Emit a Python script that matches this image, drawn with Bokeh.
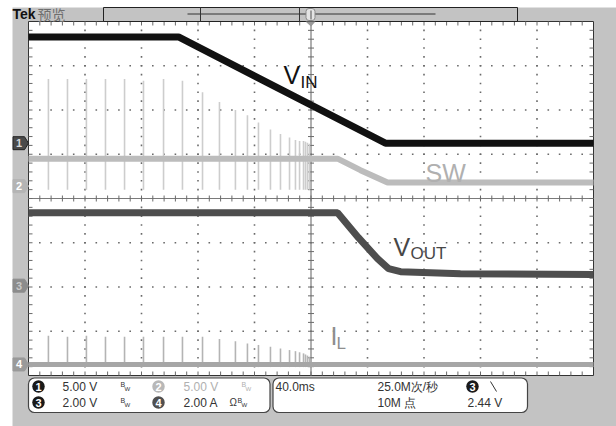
import numpy as np
from bokeh.plotting import figure
from bokeh.models import Range1d
from bokeh.core.properties import value
from bokeh.embed import file_html
from bokeh.resources import INLINE

# ---------------- data ----------------
# horizontal: 40 ms/div, 10 divisions, trigger at screen centre (t = 0)
vin_t = [-200.0, -93.8, 52.7, 200.0]
vin_v = [12.0, 12.0, 0.0, 0.0]                      # CH1, 5 V/div

sw_t = [-200.0, 18.8, 35.0, 54.2, 200.0]
sw_v = [3.1, 3.1, 1.8, 0.4, 0.4]                     # CH2, 5 V/div (envelope)

vout_t = [-200.0, 18.8, 33.6, 47.1, 54.9, 63.4, 105.8, 200.0]
vout_v = [3.30, 3.30, 2.17, 1.22, 0.77, 0.63, 0.54, 0.50]   # CH3, 2 V/div

il_t = [-200.0, 200.0]
il_a = [0.0, 0.0]                                    # CH4, 2 A/div (baseline)

# switching bursts (same instants on SW and IL)
spike_t = [-185.9, -172.4, -159.0, -145.5, -132.0, -118.6, -104.4, -91.0,
           -76.8, -64.8, -53.5, -45.0, -37.2, -28.7, -21.6, -15.2, -11.0,
           -8.1, -5.3, -3.9, -2.5, -1.1]
sw_spike_hi = [12.1, 12.1, 12.1, 12.1, 12.1, 11.9, 12.1, 11.9, 10.6, 9.5, 8.6,
               8.0, 7.2, 6.4, 5.9, 5.5, 5.2, 5.1, 5.1, 5.0, 4.9, 4.8]
sw_spike_lo = [-0.4, -0.4, -0.4, -0.4, -0.4, -0.4, -0.4, -0.4, -0.4, -0.4, -0.4,
               -0.4, -0.4, -0.4, -0.4, -0.4, -0.4, -0.4, -0.4, -0.4, -0.4, -0.4]
il_spike_hi = [1.30, 1.25, 1.30, 1.25, 1.25, 1.25, 1.25, 1.25, 1.25, 1.15, 1.05,
               0.95, 0.88, 0.80, 0.72, 0.65, 0.60, 0.55, 0.50, 0.45, 0.40, 0.35]

# channel setup
ch_scale = [5.0, 5.0, 2.0, 2.0]        # units / div
ch_offset = [1.25, 0.28, -1.97, -3.75]  # ground marker position, div
ch_names = ["1", "2", "3", "4"]
ch_units = ["5.00 V", "5.00 V", "2.00 V", "2.00 A"]
timebase = "40.0ms"
sample_rate = "25.0M次/秒"
record_len = "10M 点"
trig_level = "2.44 V"

# ---------------- pixel helpers (layout only) ----------------
KX = 400.0 / 565.0
KY = 1.0 / 44.25
X0 = -200.0 - 28 * KX
Y0 = 4.0 + 21 * KY


def X(px):
    return X0 + px * KX


def Y(py):
    return Y0 - py * KY


def dv(ch, vals):
    return [ch_offset[ch] + v / ch_scale[ch] for v in vals]


p = figure(width=616, height=426, x_range=Range1d(X(0), X(616)),
           y_range=Range1d(Y(426), Y(0)), x_axis_type=None, y_axis_type=None,
           toolbar_location=None, output_backend="svg", min_border=0)
p.outline_line_color = None
p.grid.visible = False
p.background_fill_color = "white"
p.border_fill_color = "white"

GRAY = "#c3c3c3"
p.quad(left=[X(12)], right=[X(616)], top=[Y(7)], bottom=[Y(426)],
       fill_color=GRAY, line_color=None)
# screen
p.quad(left=[-200], right=[200], top=[4], bottom=[-4], fill_color="white",
       line_color="#333333", line_width=1)

# dotted graticule
gx, gy = [], []
for xm in range(-160, 200, 40):
    if xm == 0:
        continue
    for k in range(1, 40):
        gx.append(xm)
        gy.append(-4 + k * 0.2)
for ym in range(-3, 4):
    if ym == 0:
        continue
    for k in range(1, 50):
        gx.append(-200 + k * 8)
        gy.append(ym)
p.scatter(gx, gy, marker="square", size=1.6, fill_color="#6a6a6a",
          line_color=None)

# centre cross with minor ticks
p.segment(x0=[0, -200], y0=[-4, 0], x1=[0, 200], y1=[4, 0],
          line_color="#7a7a7a", line_width=1.2)
tx0, ty0, tx1, ty1 = [], [], [], []
for k in range(1, 40):
    yy = -4 + k * 0.2
    tx0 += [-3 * KX, -200, 200]
    tx1 += [3 * KX, -200 + 4 * KX, 200 - 4 * KX]
    ty0 += [yy, yy, yy]
    ty1 += [yy, yy, yy]
for k in range(1, 50):
    xx = -200 + k * 8
    tx0 += [xx, xx, xx]
    tx1 += [xx, xx, xx]
    ty0 += [-3 * KY, 4, -4]
    ty1 += [3 * KY, 4 - 4 * KY, -4 + 4 * KY]
p.segment(x0=tx0, y0=ty0, x1=tx1, y1=ty1, line_color="#6a6a6a", line_width=1)

# switching spikes
p.segment(x0=spike_t, y0=dv(1, sw_spike_lo), x1=spike_t, y1=dv(1, sw_spike_hi),
          line_color="#cdcdcd", line_width=1.6)
p.segment(x0=spike_t, y0=[ch_offset[3] - 0.06] * len(spike_t), x1=spike_t,
          y1=dv(3, il_spike_hi), line_color="#b4b4b4", line_width=1.6)

# traces
p.line(il_t, dv(3, il_a), line_color="#a6a6a6", line_width=5)
p.line(vout_t, dv(2, vout_v), line_color="#4e4e4e", line_width=7)
p.line(sw_t, dv(1, sw_v), line_color="#bcbcbc", line_width=6)
p.line(vin_t, dv(0, vin_v), line_color="#111111", line_width=7)


def txt(px, py, s, size, color, font="Liberation Sans", align="left",
        baseline="middle", style="normal"):
    p.text(x=[X(px)], y=[Y(py)], text=[s], text_font=value(font),
           text_font_size=value(f"{size}px"), text_color=color,
           text_align=align, text_baseline=baseline, text_font_style=style)


# trace labels (positions are the vertical centre of the capitals)
txt(283, 74, "V", 25, "#111111")
txt(300, 81.5, "IN", 17, "#111111")
txt(425, 172, "SW", 25, "#b0b0b0")
txt(393, 246, "V", 25, "#474747")
txt(410, 253, "OUT", 17, "#474747")
txt(330, 335, "I", 25, "#8e8e8e")
txt(336, 342.5, "L", 17, "#8e8e8e")

# channel ground markers on the left
mk_fill = ["#4a4a4a", "#b4b4b4", "#8c8c8c", "#9a9a9a"]
mk_line = ["#222222", "#b4b4b4", "#8c8c8c", "#9a9a9a"]
mk_text = ["#d8d8d8", "#ffffff", "#c8c8c8", "#ffffff"]
for i in range(4):
    o = ch_offset[i]
    h = 6.5 * KY
    p.patch([X(12.5), X(24), X(28), X(24), X(12.5)],
            [o + h, o + h, o, o - h, o - h], fill_color=mk_fill[i],
            line_color=mk_line[i], line_width=1)
    p.text(x=[X(18.5)], y=[o], text=[ch_names[i]],
           text_font=value("Liberation Sans"), text_font_size=value("11px"),
           text_font_style="bold", text_color=mk_text[i], text_align="center",
           text_baseline="middle")

# top bar
txt(12, 13.5, "Tek", 14, "#111111", style="bold")
txt(37, 13.5, "预览", 14, "#6e6e6e", font="Noto Sans CJK SC")
p.quad(left=[X(103)], right=[X(517)], top=[Y(7)], bottom=[Y(21)],
       fill_color=GRAY, line_color="#222222", line_width=1)
p.segment(x0=[X(187), X(200), X(299)], y0=[Y(13.5), Y(7), Y(7)],
          x1=[X(435), X(200), X(299)], y1=[Y(13.5), Y(21), Y(21)],
          line_color="#333333", line_width=1)
# trigger position marker
p.quad(left=[X(305.5)], right=[X(314.5)], top=[Y(8)], bottom=[Y(20)],
       fill_color="#e4e4e4", line_color="#8a8a8a", border_radius=3)
p.segment(x0=[0], y0=[Y(10)], x1=[0], y1=[Y(19)], line_color="#9a9a9a",
          line_width=2)
p.patch([X(305), X(315), 0], [4, 4, 4 - 5 * KY], fill_color="#9a9a9a",
        line_color=None)

# bottom information panel
p.quad(left=[X(28), X(272.5)], right=[X(269.5), X(527)],
       top=[Y(377.5), Y(377.5)], bottom=[Y(412), Y(412)], fill_color="white",
       line_color="#444444", line_width=1.2, border_radius=6)

badge_fill = ["#1a1a1a", "#b8b8b8", "#1a1a1a", "#505050"]
badge_x = [38, 158, 38, 158]
row_y = [386, 386, 402, 402]
val_x = [62, 183, 62, 183]
val_col = ["#333333", "#b0b0b0", "#333333", "#333333"]
bw_x = [120, 241, 120, 237]
FNT = "Liberation Sans"
for i in range(4):
    p.scatter([X(badge_x[i])], [Y(row_y[i])], marker="circle", size=12.5,
              fill_color=badge_fill[i], line_color=None)
    p.text(x=[X(badge_x[i])], y=[Y(row_y[i] + 0.5)], text=[ch_names[i]],
           text_font=value("Liberation Sans"), text_font_size=value("11px"),
           text_font_style="bold", text_color="white", text_align="center",
           text_baseline="middle")
    txt(val_x[i], row_y[i], ch_units[i], 12, val_col[i], font=FNT)
    txt(bw_x[i], row_y[i] - 2, "B", 7, val_col[i], font=FNT)
    txt(bw_x[i] + 4, row_y[i] + 2, "W", 6, val_col[i], font=FNT)
txt(229, 402, "Ω", 10, "#333333", font=FNT)

txt(275, 386, timebase, 12, "#333333", font=FNT)
txt(377, 386, sample_rate, 12, "#333333", font=FNT)
txt(377, 402, record_len, 12, "#333333", font=FNT)
p.scatter([X(472)], [Y(386)], marker="circle", size=12.5, fill_color="#1a1a1a",
          line_color=None)
p.text(x=[X(472)], y=[Y(386.5)], text=["3"], text_font=value("Liberation Sans"),
       text_font_size=value("11px"), text_font_style="bold", text_color="white",
       text_align="center", text_baseline="middle")
p.segment(x0=[X(490)], y0=[Y(381)], x1=[X(496)], y1=[Y(391)],
          line_color="#333333", line_width=1)
txt(467, 402, trig_level, 12, "#333333", font=FNT)

open("out.html", "w").write(file_html(p, INLINE))
